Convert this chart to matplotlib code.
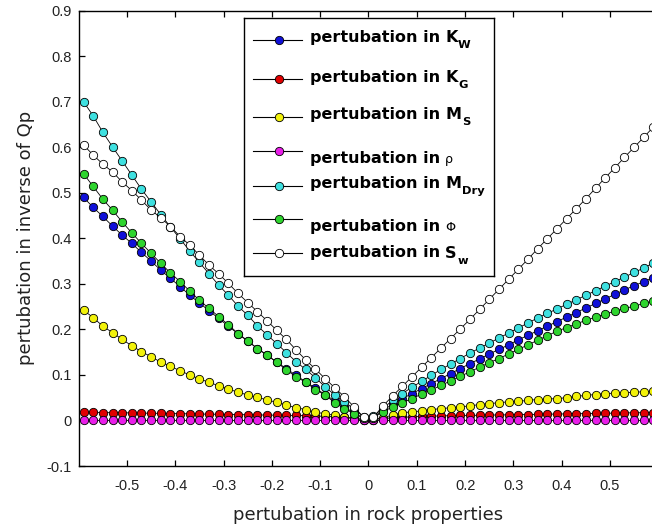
import numpy as np
import matplotlib
matplotlib.use("Agg")
import matplotlib.pyplot as plt

plt.rcParams['axes.unicode_minus'] = False

# perturbation grid (rock-property perturbation, fractional)
x = np.linspace(-0.59, 0.59, 60)

# perturbation in inverse Qp for each rock property (negative side, then positive side)
kw_neg = [0.490, 0.468, 0.448, 0.427, 0.407, 0.389, 0.369, 0.350, 0.330, 0.312,
          0.294, 0.275, 0.258, 0.241, 0.224, 0.207, 0.190, 0.174, 0.158, 0.143,
          0.128, 0.114, 0.099, 0.085, 0.071, 0.057, 0.043, 0.029, 0.017, 0.005]
kw_pos = [0.007, 0.022, 0.036, 0.048, 0.059, 0.070, 0.081, 0.092, 0.103, 0.114,
          0.125, 0.135, 0.146, 0.156, 0.166, 0.177, 0.187, 0.197, 0.207, 0.217,
          0.227, 0.237, 0.247, 0.257, 0.267, 0.277, 0.287, 0.296, 0.305, 0.314]

kg_neg = [0.018, 0.018, 0.0175, 0.017, 0.017, 0.0165, 0.016, 0.016, 0.0155, 0.015,
          0.015, 0.0145, 0.014, 0.014, 0.0135, 0.013, 0.013, 0.0125, 0.012, 0.012,
          0.0115, 0.011, 0.011, 0.0105, 0.010, 0.009, 0.008, 0.007, 0.005, 0.002]
kg_pos = [0.002, 0.004, 0.006, 0.007, 0.008, 0.009, 0.0095, 0.010, 0.0105, 0.011,
          0.011, 0.0115, 0.012, 0.012, 0.0125, 0.013, 0.013, 0.0135, 0.014, 0.014,
          0.0145, 0.015, 0.015, 0.0155, 0.016, 0.016, 0.0165, 0.017, 0.017, 0.0175]

ms_neg = [0.242, 0.226, 0.207, 0.193, 0.178, 0.164, 0.151, 0.140, 0.128, 0.119,
          0.109, 0.100, 0.091, 0.084, 0.076, 0.069, 0.062, 0.056, 0.051, 0.045,
          0.040, 0.034, 0.028, 0.024, 0.018, 0.015, 0.011, 0.007, 0.004, 0.002]
ms_pos = [0.002, 0.006, 0.012, 0.017, 0.019, 0.021, 0.024, 0.026, 0.028, 0.030,
          0.032, 0.035, 0.037, 0.039, 0.041, 0.042, 0.044, 0.046, 0.047, 0.048,
          0.050, 0.053, 0.055, 0.057, 0.059, 0.060, 0.061, 0.062, 0.063, 0.064]

rho_neg = [0.000, 0.000, 0.000, 0.000, 0.000, 0.000, 0.000, 0.000, 0.000, 0.000,
           0.000, 0.000, 0.000, 0.000, 0.000, 0.000, 0.000, 0.000, 0.000, 0.000,
           0.000, 0.000, 0.000, 0.000, 0.000, 0.000, 0.000, 0.000, 0.000, 0.000]
rho_pos = [0.000, 0.000, 0.000, 0.000, 0.000, 0.000, 0.000, 0.000, 0.000, 0.000,
           0.000, 0.000, 0.000, 0.000, 0.000, 0.000, 0.000, 0.000, 0.000, 0.000,
           0.000, 0.000, 0.000, 0.000, 0.000, 0.000, 0.000, 0.000, 0.000, 0.000]

mdry_neg = [0.700, 0.669, 0.633, 0.601, 0.570, 0.539, 0.508, 0.480, 0.452, 0.425,
            0.399, 0.372, 0.347, 0.322, 0.297, 0.275, 0.251, 0.231, 0.208, 0.188,
            0.169, 0.149, 0.129, 0.112, 0.094, 0.074, 0.056, 0.041, 0.025, 0.008]
mdry_pos = [0.009, 0.027, 0.044, 0.059, 0.073, 0.086, 0.099, 0.112, 0.124, 0.136,
            0.148, 0.159, 0.170, 0.181, 0.192, 0.203, 0.214, 0.225, 0.235, 0.245,
            0.255, 0.265, 0.275, 0.285, 0.295, 0.305, 0.315, 0.325, 0.335, 0.346]

phi_neg = [0.542, 0.514, 0.486, 0.462, 0.436, 0.412, 0.389, 0.367, 0.345, 0.324,
           0.305, 0.284, 0.264, 0.246, 0.228, 0.210, 0.191, 0.175, 0.158, 0.144,
           0.128, 0.111, 0.096, 0.084, 0.068, 0.056, 0.039, 0.026, 0.015, 0.005]
phi_pos = [0.006, 0.019, 0.030, 0.039, 0.048, 0.058, 0.067, 0.077, 0.087, 0.097,
           0.107, 0.117, 0.127, 0.136, 0.146, 0.156, 0.166, 0.176, 0.186, 0.196,
           0.204, 0.212, 0.220, 0.227, 0.234, 0.240, 0.246, 0.251, 0.257, 0.263]

sw_neg = [0.605, 0.583, 0.563, 0.546, 0.524, 0.505, 0.484, 0.462, 0.445, 0.426,
          0.404, 0.385, 0.363, 0.341, 0.322, 0.301, 0.279, 0.259, 0.239, 0.219,
          0.198, 0.178, 0.155, 0.133, 0.113, 0.092, 0.072, 0.052, 0.030, 0.007]
sw_pos = [0.007, 0.032, 0.054, 0.075, 0.096, 0.117, 0.138, 0.159, 0.180, 0.201,
          0.222, 0.244, 0.266, 0.288, 0.310, 0.332, 0.354, 0.377, 0.399, 0.421,
          0.443, 0.465, 0.487, 0.510, 0.533, 0.555, 0.578, 0.600, 0.622, 0.645]

series = [
    (kw_neg + kw_pos, '#1010d8', ('K', 'W', True)),
    (kg_neg + kg_pos, '#e00000', ('K', 'G', True)),
    (ms_neg + ms_pos, '#f2f20a', ('M', 'S', True)),
    (rho_neg + rho_pos, '#e81ee8', ('\u03c1', '', False)),
    (mdry_neg + mdry_pos, '#3ee0e0', ('M', 'Dry', True)),
    (phi_neg + phi_pos, '#2ed42e', ('\u03a6', '', False)),
    (sw_neg + sw_pos, '#ffffff', ('S', 'w', True)),
]

x_ticks = [-0.5, -0.4, -0.3, -0.2, -0.1, 0.0, 0.1, 0.2, 0.3, 0.4, 0.5]
x_tick_labels = ['-0.5', '-0.4', '-0.3', '-0.2', '-0.1', '0', '0.1', '0.2', '0.3', '0.4', '0.5']
y_ticks = [-0.1, 0.0, 0.1, 0.2, 0.3, 0.4, 0.5, 0.6, 0.7, 0.8, 0.9]
y_tick_labels = ['-0.1', '0', '0.1', '0.2', '0.3', '0.4', '0.5', '0.6', '0.7', '0.8', '0.9']

W, H = 652, 531
fig = plt.figure(figsize=(W / 100, H / 100), dpi=100)
fig.patch.set_facecolor('white')

# main axes (right edge runs slightly past the canvas)
ax = fig.add_axes([78.7 / W, 1 - 466 / H, 579.6 / W, 455.3 / H])
MS = 6.0
for vals, col, _ in series:
    ax.plot(x, vals, '-', color='black', lw=0.6, marker='o', ms=MS,
            mfc=col, mec='black', mew=0.6)

ax.set_xlim(-0.6, 0.6)
ax.set_ylim(-0.1, 0.9)
ax.set_xticks(x_ticks)
ax.set_xticklabels(x_tick_labels, fontfamily='Liberation Sans', fontsize=10.5)
ax.set_yticks(y_ticks)
ax.set_yticklabels(y_tick_labels, fontfamily='Liberation Sans', fontsize=10.5)
ax.tick_params(direction='in', length=4, width=0.9, top=True, right=True,
               colors='black', labelcolor='#222222')
ax.tick_params(axis='x', pad=9)
ax.tick_params(axis='y', pad=5)
for sp in ax.spines.values():
    sp.set_linewidth(1.0)

fig.text(368.5 / W, 1 - 520 / H, 'pertubation in rock properties',
         fontfamily='DejaVu Sans', fontsize=13, ha='center', va='baseline',
         color='#222222')
fig.text(30.7 / W, 1 - 238 / H, 'pertubation in inverse of Qp',
         fontfamily='DejaVu Sans', fontsize=13, ha='center', va='baseline',
         rotation=90, rotation_mode='anchor', color='#222222')

# legend box drawn in pixel units
LX0, LY0, LW, LH = 244, 18.3, 250, 257.7
lax = fig.add_axes([LX0 / W, 1 - (LY0 + LH) / H, LW / W, LH / H], zorder=5)
lax.set_xticks([])
lax.set_yticks([])
lax.set_facecolor('white')
for sp in lax.spines.values():
    sp.set_linewidth(1.0)

marker_y = [21.7, 60.7, 99.0, 132.4, 167.4, 201.0, 235.0]
text_y = [24.0, 63.4, 101.0, 145.0, 170.0, 212.7, 239.2]

for (vals, col, _), my in zip(series, marker_y):
    lax.plot([9.3, 57.7], [my, my], '-', color='black', lw=0.8)
    lax.plot([35.3], [my], 'o', ms=MS, mfc=col, mec='black', mew=0.6)

lax.set_xlim(0, LW)
lax.set_ylim(LH, 0)
lax.autoscale(False)

renderer = fig.canvas.get_renderer()
FS = 11.5
for (vals, col, (sym, sub, bold)), ty in zip(series, text_y):
    t = lax.text(66, ty, 'pertubation in', fontfamily='DejaVu Sans',
                 fontsize=FS, fontweight='bold', va='baseline', ha='left')
    xn = 66 + t.get_window_extent(renderer).width + 5
    if bold:
        s = lax.text(xn, ty, sym, fontfamily='DejaVu Sans', fontsize=FS,
                     fontweight='bold', va='baseline', ha='left')
        xs = xn + s.get_window_extent(renderer).width + 0.5
        lax.text(xs, ty + 6, sub, fontfamily='DejaVu Sans', fontsize=FS * 0.72,
                 fontweight='bold', va='baseline', ha='left')
    else:
        lax.text(xn, ty, sym, fontfamily='DejaVu Sans', fontsize=FS * 0.8,
                 fontweight='normal', va='baseline', ha='left')

fig.savefig('out.png', dpi=100, facecolor='white')
